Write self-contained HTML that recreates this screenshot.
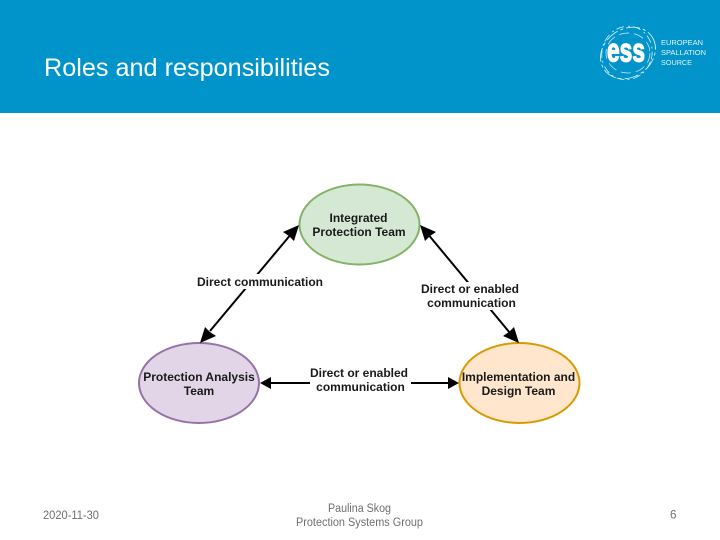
<!DOCTYPE html>
<html>
<head>
<meta charset="utf-8">
<title>Roles and responsibilities</title>
<style>
html,body{margin:0;padding:0;background:#fff}
svg{display:block}
</style>
</head>
<body>
<svg xmlns="http://www.w3.org/2000/svg" width="720" height="540" viewBox="0 0 720 540">
  <rect width="720" height="540" fill="#fff"/>
  <rect width="720" height="113" fill="#0094ca"/>
  <text x="44" y="76" font-family="'Liberation Sans',sans-serif" font-size="25" fill="#fff" textLength="286" lengthAdjust="spacingAndGlyphs">Roles and responsibilities</text>

  <!-- logo -->
  <g fill="none" stroke="#d5eef7">
    <ellipse cx="628" cy="53" rx="29" ry="24" transform="rotate(-35 628 53)" stroke-width="0.9" stroke-dasharray="14 3 3 3"/>
    <ellipse cx="627" cy="53" rx="25" ry="27" transform="rotate(20 627 53)" stroke-width="0.8" stroke-dasharray="8 4 2 3"/>
    <ellipse cx="628" cy="53" rx="22" ry="20" stroke-width="0.7" stroke-dasharray="10 5"/>
  </g>
  <text x="607" y="61.5" font-family="'Liberation Sans',sans-serif" font-weight="bold" font-size="33" fill="#fff" stroke="#fff" stroke-width="1.3" textLength="38" lengthAdjust="spacingAndGlyphs">ess</text>
  <g font-family="'Liberation Sans',sans-serif" font-size="7.2" fill="#e4f4fa">
    <text x="661" y="45" textLength="42" lengthAdjust="spacingAndGlyphs">EUROPEAN</text>
    <text x="661" y="55" textLength="45" lengthAdjust="spacingAndGlyphs">SPALLATION</text>
    <text x="661" y="65" textLength="31" lengthAdjust="spacingAndGlyphs">SOURCE</text>
  </g>

  <!-- ellipses -->
  <ellipse cx="359.5" cy="224.5" rx="60" ry="40" fill="#d5e8d4" stroke="#82b366" stroke-width="2"/>
  <ellipse cx="199" cy="383" rx="60" ry="40" fill="#e1d5e7" stroke="#9673a6" stroke-width="2"/>
  <ellipse cx="519.5" cy="383" rx="60" ry="40" fill="#ffe6cc" stroke="#d79b00" stroke-width="2"/>

  <!-- connectors -->
  <g stroke="#000" stroke-width="2" fill="none">
    <line x1="210" y1="331" x2="292" y2="233"/>
    <line x1="510" y1="333" x2="427" y2="233"/>
    <line x1="268" y1="383" x2="310" y2="383"/>
    <line x1="411" y1="383" x2="450" y2="383"/>
  </g>
  <g fill="#000">
    <polygon points="299,225 294,241 289,236 283,232"/>
    <polygon points="420,225 436,232 430,236 425,241"/>
    <polygon points="200,343 205,327 210,332 216,336"/>
    <polygon points="519,343 503,336 509,332 514,327"/>
    <polygon points="260,383 271,377 271,389"/>
    <polygon points="459,383 448,377 448,389"/>
  </g>

  <!-- label backing -->
  <g fill="#fff">
    <rect x="197" y="274" width="127" height="15"/>
    <rect x="421" y="282" width="99" height="28"/>
    <rect x="310" y="366" width="99" height="28"/>
  </g>

  <!-- labels -->
  <g font-family="'Liberation Sans',sans-serif" font-size="12" font-weight="bold" fill="#1a1a1a" text-anchor="middle">
    <text x="358.5" y="222">Integrated</text>
    <text x="359" y="236">Protection Team</text>
    <text x="199" y="381">Protection Analysis</text>
    <text x="199" y="395">Team</text>
    <text x="518.5" y="381">Implementation and</text>
    <text x="518.5" y="395">Design Team</text>
    <text x="260" y="286">Direct communication</text>
    <text x="470" y="293">Direct or enabled</text>
    <text x="471.5" y="307">communication</text>
    <text x="359" y="377">Direct or enabled</text>
    <text x="360.5" y="391">communication</text>
  </g>

  <!-- footer -->
  <g font-family="'Liberation Sans',sans-serif" font-size="11.5" fill="#707070">
    <text x="43" y="519" textLength="56" lengthAdjust="spacingAndGlyphs">2020-11-30</text>
    <text x="328" y="512" textLength="63" lengthAdjust="spacingAndGlyphs">Paulina Skog</text>
    <text x="296" y="526" textLength="127" lengthAdjust="spacingAndGlyphs">Protection Systems Group</text>
    <text x="670" y="518.5" textLength="6.5" lengthAdjust="spacingAndGlyphs">6</text>
  </g>
</svg>
</body>
</html>
